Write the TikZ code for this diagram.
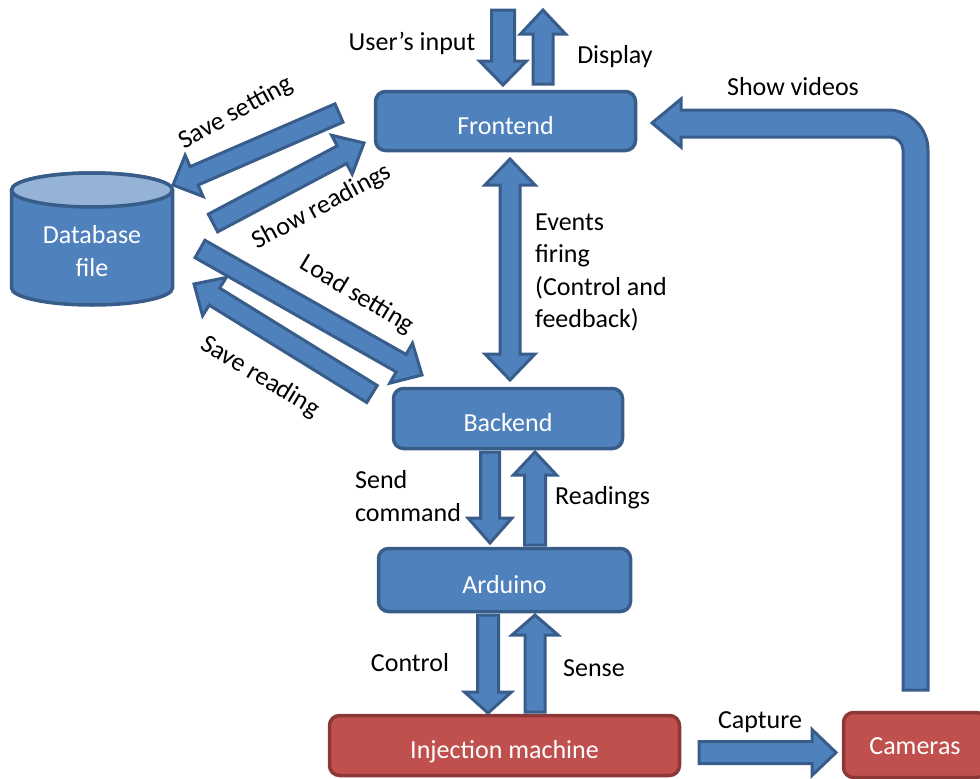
\documentclass[tikz,border=0pt]{standalone}
\usepackage{fontspec}
\setmainfont{Carlito}
\usetikzlibrary{calc}
\definecolor{blu}{HTML}{4F81BD}
\definecolor{bdr}{HTML}{385D8A}
\definecolor{blutop}{HTML}{95B3D7}
\definecolor{rfill}{HTML}{C0504D}
\definecolor{rbdr}{HTML}{8C3836}
% #1 tail, #2 tip, #3 half shaft width, #4 half head width, #5 head length
\newcommand\barrow[5]{%
  \coordinate (ba-m) at ($(#2)!#5pt!(#1)$);
  \draw[blockarrow] ($(#1)!#3pt!90:(#2)$) -- ($(ba-m)!#3pt!-90:(#1)$)
    -- ($(ba-m)!#4pt!-90:(#1)$) -- (#2) -- ($(ba-m)!#4pt!90:(#1)$)
    -- ($(ba-m)!#3pt!90:(#1)$) -- ($(#1)!#3pt!-90:(#2)$) -- cycle;}
\newcommand\dbarrow[5]{%
  \coordinate (ba-m) at ($(#2)!#5pt!(#1)$);
  \coordinate (ba-n) at ($(#1)!#5pt!(#2)$);
  \draw[blockarrow] ($(ba-n)!#3pt!90:(#2)$) -- ($(ba-m)!#3pt!-90:(#1)$)
    -- ($(ba-m)!#4pt!-90:(#1)$) -- (#2) -- ($(ba-m)!#4pt!90:(#1)$)
    -- ($(ba-m)!#3pt!90:(#1)$) -- ($(ba-n)!#3pt!-90:(#2)$)
    -- ($(ba-n)!#4pt!-90:(#2)$) -- (#1) -- ($(ba-n)!#4pt!90:(#2)$) -- cycle;}
\begin{document}
\begin{tikzpicture}[x=1pt,y=-1pt,
  txt/.style={font=\fontsize{26}{32.5}\selectfont, inner sep=0pt},
  lbl/.style={txt, text=black},
  bluebox/.style={txt, rounded corners=10pt, draw=bdr, fill=blu, line width=3.5pt, text=white, text height=26pt, text depth=0pt},
  redbox/.style={txt, rounded corners=10pt, draw=rbdr, fill=rfill, line width=3.5pt, text=white, text height=26pt, text depth=0pt},
  blockarrow/.style={draw=bdr, fill=blu, line width=3pt, line join=miter}]
\useasboundingbox (0,0) rectangle (980,779);

% boxes
\node[bluebox, minimum width=260pt, minimum height=59pt] (fe) at (505.5,121) {Frontend};
\node[bluebox, minimum width=229pt, minimum height=60pt] (be) at (508,418.5) {Backend};
\node[bluebox, minimum width=252pt, minimum height=63pt] (ar) at (504.5,580) {Arduino};
\node[redbox, minimum width=350pt, minimum height=60pt] (im) at (504.5,745.5) {Injection machine};
\node[redbox, text height=18pt, minimum width=143pt, minimum height=65pt] (cam) at (915,745) {Cameras};

% database cylinder
\draw[draw=bdr, fill=blu, line width=3.5pt] (11.5,190) -- (11.5,288)
  arc[start angle=180, end angle=360, x radius=80.5pt, y radius=17pt]
  -- (172.5,190) arc[start angle=0, end angle=180, x radius=80.5pt, y radius=17pt] -- cycle;
\draw[draw=bdr, fill=blutop, line width=3.5pt] (92,190) ellipse [x radius=80.5pt, y radius=17pt];
\node[txt, text=white, align=center] (db) at (92,251) {Database\\file};

% arrow end points
\coordinate (ui-a) at (503,10);   \coordinate (ui-b) at (503,85);
\coordinate (dp-a) at (543,84);   \coordinate (dp-b) at (543,10);
\coordinate (ss-a) at (339,113);  \coordinate (ss-b) at (173,185);
\coordinate (sr-a) at (213,223);  \coordinate (sr-b) at (364,143);
\coordinate (ls-a) at (200,249);  \coordinate (ls-b) at (422,375);
\coordinate (sv-a) at (372,394);  \coordinate (sv-b) at (194,284);
\coordinate (ev-a) at (510,159);  \coordinate (ev-b) at (510,380);
\coordinate (sc-a) at (490,452);  \coordinate (sc-b) at (490,543);
\coordinate (rd-a) at (535,545);  \coordinate (rd-b) at (535,452);
\coordinate (ct-a) at (488,615);  \coordinate (ct-b) at (488,713);
\coordinate (se-a) at (535,712);  \coordinate (se-b) at (535,615);
\coordinate (cp-a) at (699,752.5); \coordinate (cp-b) at (836,752.5);

\barrow{ui-a}{ui-b}{11.5}{23.5}{24}
\barrow{dp-a}{dp-b}{10}{22.5}{24}
\barrow{ss-a}{ss-b}{10}{22.5}{23}
\barrow{sr-a}{sr-b}{10}{22}{25}
\barrow{ls-a}{ls-b}{10}{23}{24}
\barrow{sv-a}{sv-b}{10}{22.5}{24}
\dbarrow{ev-a}{ev-b}{10}{25}{26}
\barrow{sc-a}{sc-b}{9.5}{22}{25}
\barrow{rd-a}{rd-b}{10.5}{21.5}{23}
\barrow{ct-a}{ct-b}{10.5}{23.5}{21}
\barrow{se-a}{se-b}{10}{23}{20}
\barrow{cp-a}{cp-b}{11}{23}{24}

% show videos bent arrow
\draw[blockarrow] (903,690) -- (928,690) -- (928,150)
  arc[start angle=0, end angle=90, radius=40pt] -- (681,110) -- (681,99)
  -- (652,123) -- (681,147) -- (681,137) -- (890,137)
  arc[start angle=90, end angle=0, radius=13pt] -- cycle;

% labels
\node[lbl] (l-ui) at (412,43) {User’s input};
\node[lbl] (l-dp) at (615,57) {Display};
\node[lbl] (l-sv) at (793,87) {Show videos};
\node[lbl, rotate=29] (l-ss) at (236,113) {Save setting};
\node[lbl, rotate=28] (l-sr) at (322,207) {Show readings};
\node[lbl, rotate=-31] (l-ls) at (357,295) {Load setting};
\node[lbl, rotate=-31] (l-svr) at (260,377) {Save reading};
\node[lbl, align=left, anchor=west] (l-ev) at (535,272.5) {Events\\firing\\(Control and\\feedback)};
\node[lbl, align=left, anchor=west] (l-sc) at (355,496) {Send\\command};
\node[lbl, anchor=west] (l-rd) at (555,498) {Readings};
\node[lbl] (l-ct) at (410,663) {Control};
\node[lbl] (l-se) at (594,668) {Sense};
\node[lbl] (l-cp) at (760,722) {Capture};
\end{tikzpicture}
\end{document}
